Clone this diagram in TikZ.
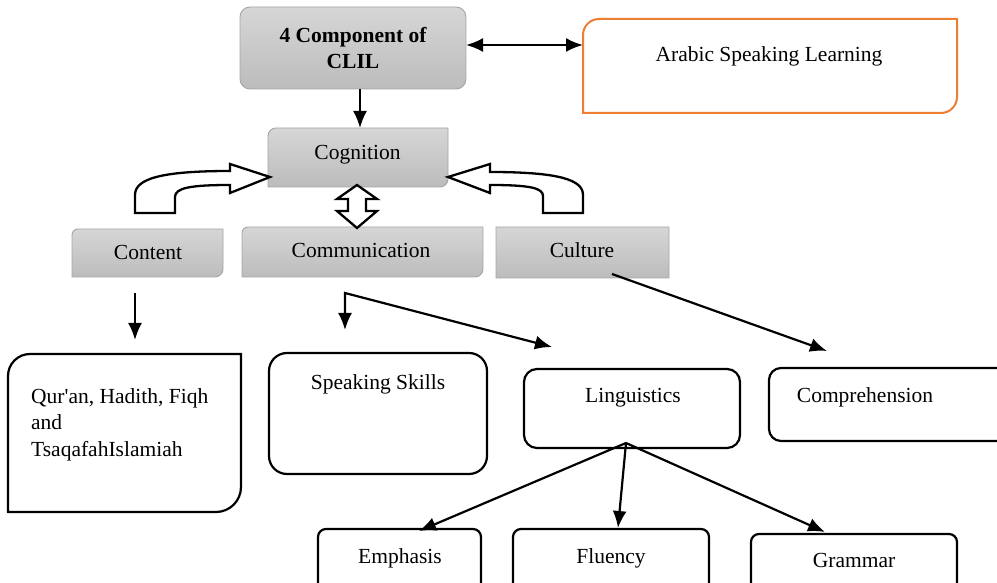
\documentclass[tikz,border=0pt]{standalone}
\usepackage{fontspec}
\setmainfont{Liberation Serif}
\usetikzlibrary{arrows.meta,calc}
\definecolor{orng}{HTML}{ED7D31}
\definecolor{gtop}{HTML}{D6D6D6}
\definecolor{gbot}{HTML}{BCBCBC}
\definecolor{gline}{HTML}{A5A5A5}
\newcommand\rbox[6]{\path[#1] ($(#2.north west)+(0,-#3)$) arc[start angle=180,end angle=90,radius=#3] -- ($(#2.north east)+(-#4,0)$) arc[start angle=90,end angle=0,radius=#4] -- ($(#2.south east)+(0,#5)$) arc[start angle=0,end angle=-90,radius=#5] -- ($(#2.south west)+(#6,0)$) arc[start angle=270,end angle=180,radius=#6] -- cycle;}
\tikzset{
  box/.style={inner sep=0pt,outer sep=0pt},
  txt/.style={inner sep=0pt,font=\fontsize{21.5}{26.5}\selectfont,anchor=base},
  arr/.style={line width=2.2pt,-{Latex[length=17pt,width=14pt]}},
  dbl/.style={line width=2.2pt,{Latex[length=17pt,width=14pt]}-{Latex[length=17pt,width=14pt]}},
  grayfill/.style={top color=gtop,bottom color=gbot,draw=gline,line width=0.9pt},
  wbox/.style={draw=black,line width=2.2pt},
  blockarrow/.style={draw=black,fill=white,line width=2.3pt,line join=miter}
}
\begin{document}
\begin{tikzpicture}[x=1pt,y=1pt]
\useasboundingbox (0,0) rectangle (997,582);
\clip (0,0) rectangle (997,582);
% box nodes
\node[box,minimum width=226pt,minimum height=82pt] (comp) at (353,534) {};
\node[box,minimum width=374pt,minimum height=94pt] (arab) at (770,516) {};
\node[box,minimum width=180pt,minimum height=59pt] (cog) at (358,424.5) {};
\node[box,minimum width=151pt,minimum height=48pt] (cont) at (147.5,329) {};
\node[box,minimum width=241pt,minimum height=50pt] (comm) at (362.5,330) {};
\node[box,minimum width=173pt,minimum height=51pt] (cult) at (582.5,329.5) {};
\node[box,minimum width=233pt,minimum height=158pt] (quran) at (124.5,149) {};
\node[box,minimum width=218pt,minimum height=121pt] (speak) at (378,168.5) {};
\node[box,minimum width=216pt,minimum height=79pt] (ling) at (632,173.5) {};
\node[box,minimum width=241pt,minimum height=73pt] (compr) at (889.5,177.5) {};
\node[box,minimum width=163pt,minimum height=71pt] (emph) at (399.5,17.5) {};
\node[box,minimum width=196pt,minimum height=71pt] (flu) at (611,17.5) {};
\node[box,minimum width=206pt,minimum height=66pt] (gram) at (854,15) {};
% frames
\rbox{grayfill}{comp}{10}{10}{10}{10}
\rbox{draw=orng,line width=2pt}{arab}{16}{0.01}{16}{0.01}
\rbox{grayfill}{cog}{8}{0.01}{8}{0.01}
\rbox{grayfill}{cont}{6}{0.01}{8}{0.01}
\rbox{grayfill}{comm}{6}{0.01}{8}{0.01}
\rbox{grayfill}{cult}{0.01}{0.01}{0.01}{0.01}
\rbox{wbox}{quran}{22}{0.01}{25}{0.01}
\rbox{wbox}{speak}{18}{18}{18}{18}
\rbox{wbox}{ling}{13}{13}{13}{13}
\rbox{wbox}{compr}{12}{12}{12}{12}
\rbox{wbox}{emph}{8}{8}{8}{8}
\rbox{wbox}{flu}{8}{8}{8}{8}
\rbox{wbox}{gram}{8}{8}{8}{8}
% block arrows
\path[blockarrow] (135,369) -- (135,387) .. controls (135,403) and (160,411) .. (230,411) -- (230,418) -- (270,405) -- (230,389) -- (230,397) .. controls (190,397) and (175,394) .. (175,385) -- (175,369) -- cycle;
\path[blockarrow] (448,405) -- (490,418) -- (490,410) .. controls (560,410) and (583,402) .. (583,387) -- (583,369) -- (543,369) -- (543,386) .. controls (543,394) and (530,397) .. (490,397) -- (490,389) -- cycle;
\path[blockarrow] (357,397) -- (337,383) -- (348,383) -- (348,371) -- (337,371) -- (357,354) -- (377,371) -- (366,371) -- (366,383) -- (377,383) -- cycle;
% connectors
\coordinate (da) at ([yshift=3pt]comp.east);
\draw[dbl] (da) -- (da -| arab.west);
\draw[arr] ([xshift=7pt]comp.south) -- ([xshift=7pt]comp.south |- cog.north);
\coordinate (ca1) at (135,289);
\coordinate (ca2) at (135,242);
\draw[arr] (ca1) -- (ca2);
\coordinate (cm1) at (345,289);
\coordinate (cm2) at (345,252);
\coordinate (cm3) at (552,235);
\draw[line width=2.2pt,line join=miter,{Latex[length=17pt,width=14pt]}-{Latex[length=17pt,width=14pt]}] (cm2) -- (cm1) -- (cm3);
\coordinate (cu1) at (612,308);
\coordinate (cu2) at (827,231);
\draw[arr] (cu1) -- (cu2);
\coordinate (lo) at (626,139);
\coordinate (le) at (419,51);
\coordinate (lf) at (618,54);
\coordinate (lg) at (825,50);
\draw[arr] (lo) -- (le);
\draw[arr] (lo) -- (lf);
\draw[arr] (lo) -- (lg);
% texts
\node[txt,font=\bfseries\fontsize{21.5}{26}\selectfont,align=center,anchor=center] (tcomp) at (353,533.5) {4 Component of\\CLIL};
\node[txt] (tarab) at (769,520) {Arabic Speaking Learning};
\node[txt] (tcog) at (357.5,422) {Cognition};
\node[txt] (tcont) at (148,322) {Content};
\node[txt] (tcomm) at (361,324) {Communication};
\node[txt] (tcult) at (582,324) {Culture};
\node[txt,align=left,anchor=north west] (tquran) at (31,194) {Qur\textquotesingle an, Hadith, Fiqh\\and\\TsaqafahIslamiah};
\node[txt] (tspeak) at (378,193) {Speaking Skills};
\node[txt] (tling) at (633,179) {Linguistics};
\node[txt] (tcompr) at (865,179) {Comprehension};
\node[txt] (temph) at (400,19) {Emphasis};
\node[txt] (tflu) at (611,19) {Fluency};
\node[txt] (tgram) at (854,15) {Grammar};
\end{tikzpicture}
\end{document}
